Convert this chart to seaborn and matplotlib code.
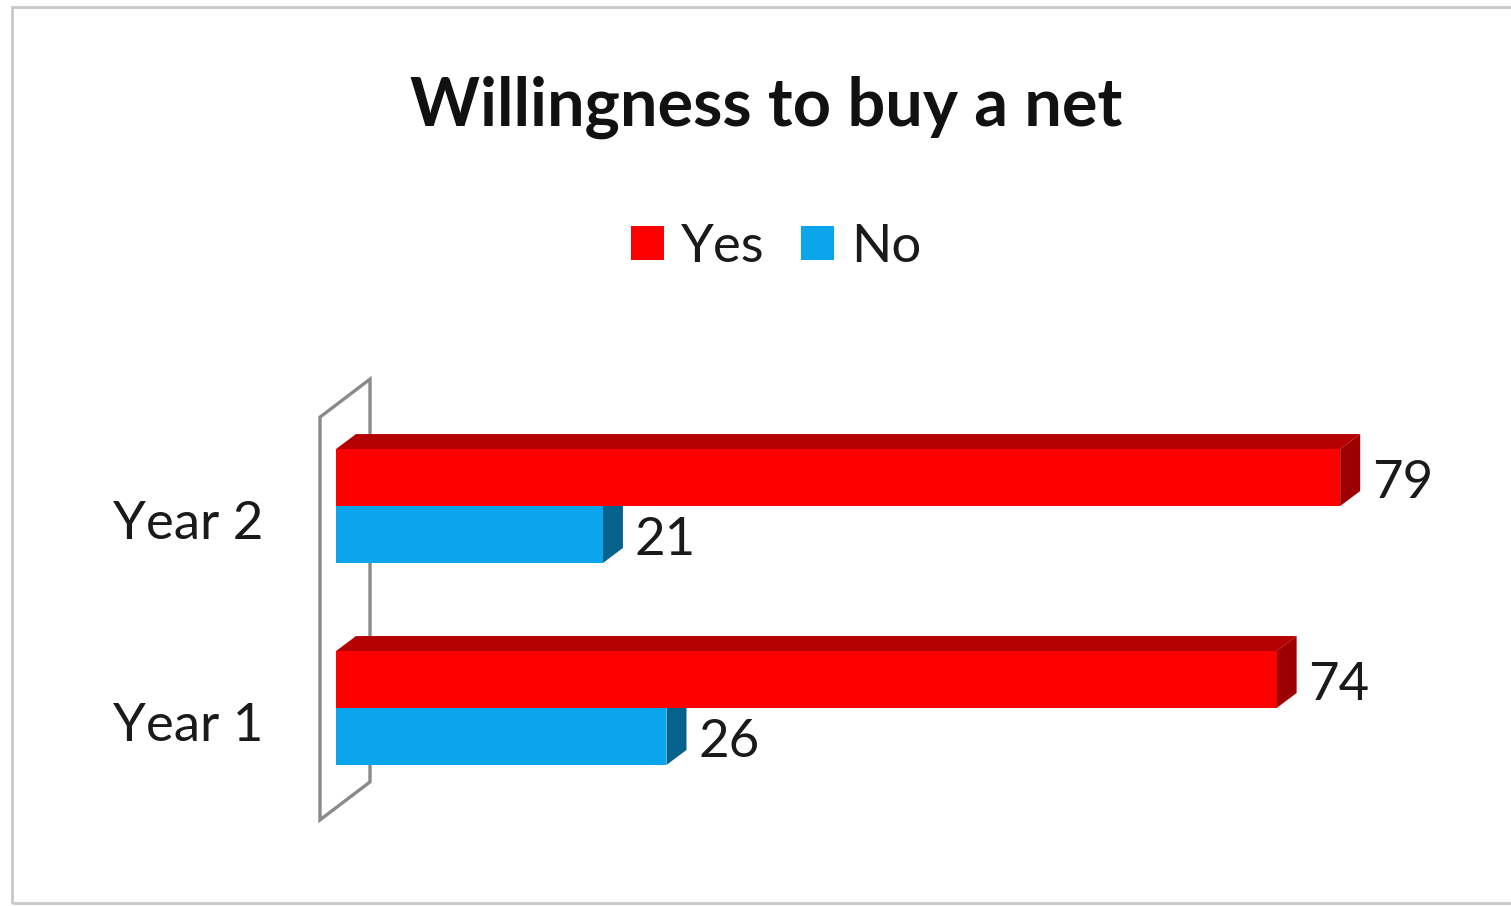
import numpy as np
import pandas as pd
import matplotlib
matplotlib.use("Agg")
import matplotlib.pyplot as plt
import seaborn as sns
from matplotlib.patches import Polygon, Rectangle, Patch
import matplotlib.transforms as mtransforms

categories = ["Year 2", "Year 1"]
series_names = ["Yes", "No"]
yes_values = [79, 74]
no_values = [21, 26]

title = "Willingness to buy a net"
front_colors = {"Yes": "#FE0000", "No": "#0BA5EC"}
top_colors = {"Yes": "#B40000", "No": "#087BB0"}
side_colors = {"Yes": "#9C0000", "No": "#06618C"}

df = pd.DataFrame({
    "Year": categories * 2,
    "Response": ["Yes"] * len(categories) + ["No"] * len(categories),
    "Value": yes_values + no_values,
})

sns.set_theme(style="white")
plt.rcParams["font.family"] = ["Lato", "DejaVu Sans"]

W, H, DPI = 1511, 906, 100
fig = plt.figure(figsize=(W / DPI, H / DPI), dpi=DPI)

LABEL_FS = 38

# axes placement (pixels)
ax_left, ax_right, ax_top, ax_bottom = 336, 1480, 300, 850
ax = fig.add_axes([ax_left / W, 1 - ax_bottom / H, (ax_right - ax_left) / W, (ax_bottom - ax_top) / H])

sns.barplot(data=df, y="Year", x="Value", hue="Response", order=categories,
            hue_order=series_names, palette=[front_colors[s] for s in series_names],
            orient="h", width=0.564, dodge=True, saturation=1, legend=False,
            ax=ax, zorder=3, linewidth=0)

ax.set_xlim(0, 90)
ax.set_ylim(1.703, -1.02)
for s in ax.spines.values():
    s.set_visible(False)
ax.set_xticks([])
ax.set_xlabel("")
ax.set_ylabel("")
ax.tick_params(axis="y", length=0, pad=52, labelsize=LABEL_FS, labelcolor="#1a1a1a")
offset = mtransforms.ScaledTranslation(0, -14 / DPI, fig.dpi_scale_trans)
for lab in ax.get_yticklabels():
    lab.set_transform(lab.get_transform() + offset)

# pixel -> data conversion factors
p0 = ax.transData.transform((0, 0))
p1 = ax.transData.transform((1, 1))
px_x = p1[0] - p0[0]
px_y = p0[1] - p1[1]

dx = 20 / px_x
dy = 15 / px_y

# back wall
wfx = -16 / px_x
wbx = wfx + 50 / px_x
w_top_front = -0.44
w_bot_front = 1.554
wdy = 38 / px_y
wall = Polygon([(wfx, w_top_front), (wbx, w_top_front - wdy), (wbx, w_bot_front - wdy), (wfx, w_bot_front)],
               closed=True, facecolor="white", edgecolor="#8A8A8A", linewidth=2.4, zorder=1,
               clip_on=False)
ax.add_patch(wall)

for cont, name in zip(ax.containers, series_names):
    for rect, val in zip(cont.patches, cont.datavalues):
        x0 = rect.get_x()
        x1 = x0 + rect.get_width()
        y0 = rect.get_y()
        y1 = y0 + rect.get_height()
        top = Polygon([(x0, y0), (x0 + dx, y0 - dy), (x1 + dx, y0 - dy), (x1, y0)],
                      closed=True, facecolor=top_colors[name], edgecolor="none", zorder=2)
        side = Polygon([(x1, y0), (x1 + dx, y0 - dy), (x1 + dx, y1 - dy), (x1, y1)],
                       closed=True, facecolor=side_colors[name], edgecolor="none", zorder=2)
        ax.add_patch(top)
        ax.add_patch(side)
        ax.text(x1 + dx + 12 / px_x, (y0 + y1) / 2 + 6 / px_y, f"{val:g}", ha="left", va="center",
                fontsize=LABEL_FS, color="#1a1a1a", zorder=4)

# legend
handles = [Patch(facecolor=front_colors[s], edgecolor="none", label=s) for s in series_names]
fig.legend(handles=handles, loc="center", bbox_to_anchor=(776 / W, 1 - 247 / H), ncol=2,
           frameon=False, fontsize=LABEL_FS, handlelength=0.62, handleheight=0.62,
           handletextpad=0.32, columnspacing=0.7, labelcolor="#1a1a1a")

fig.text(766 / W, 1 - 107 / H, title, ha="center", va="center", fontsize=48,
         fontweight="bold", color="#111111")

# outer chart frame
fig.patches.append(Rectangle((12 / W, 3 / H), (W - 10) / W, (H - 10) / H, transform=fig.transFigure,
                             facecolor="none", edgecolor="#C8C8C8", linewidth=2, zorder=0))

fig.savefig("out.png", dpi=DPI)
